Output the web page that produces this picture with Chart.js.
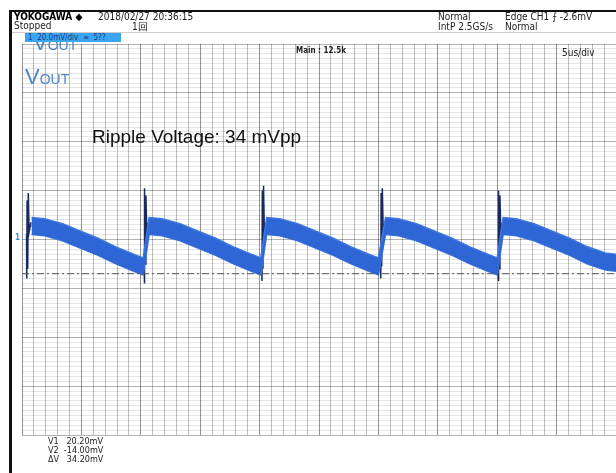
<!DOCTYPE html>
<html>
<head>
<title>Vout ripple</title>
<style>
  body { margin: 0; background: #fff; }
  #wrap { position: relative; width: 616px; height: 473px; overflow: hidden; background: #fff; }
  #chart { position: absolute; left: 0; top: 0; }
  .t { position: absolute; white-space: pre; font-family: "Liberation Sans Narrow", "DejaVu Sans Condensed", sans-serif; font-size: 10px; line-height: 10px; color: #222; }
  .vout { position: absolute; font-family: "Liberation Sans", Arial, sans-serif; color: #4f86c9; font-size: 22px; line-height: 22px; white-space: pre; }
  .vout span { font-size: 14px; }
  #frameL { position: absolute; left: 9px; top: 10px; width: 3px; height: 463px; background: #111; }
  #frameT { position: absolute; left: 9px; top: 10px; width: 607px; height: 2px; background: #111; }
  #sep { position: absolute; left: 12px; top: 32px; width: 604px; height: 1px; background: #ccc; }
  #chbox { position: absolute; left: 25px; top: 33px; width: 96px; height: 9px; background: #3aa6ef; z-index: 3; }
</style>
</head>
<body>
<div id="wrap">
  <canvas id="chart" width="616" height="473"></canvas>
  <div id="frameL"></div><div id="frameT"></div><div id="sep"></div>
  <div class="t" style="left:14px;top:12px;font-weight:bold;color:#000">YOKOGAWA ◆</div>
  <div class="t" style="left:98px;top:12px">2018/02/27 20:36:15</div>
  <div class="t" style="left:14px;top:21px">Stopped</div>
  <div class="t" style="left:132px;top:22px">1回</div>
  <div class="t" style="left:438px;top:12px">Normal</div>
  <div class="t" style="left:438px;top:22px">IntP 2.5GS/s</div>
  <div class="t" style="left:505px;top:12px">Edge CH1 ⨍ -2.6mV</div>
  <div class="t" style="left:505px;top:22px">Normal</div>
  <div class="vout" style="left:33px;top:32px;z-index:2">V<span>OUT</span></div>
  <div id="chbox"><div class="t" style="left:3px;top:0px;font-size:8px;line-height:9px;color:#1a3c8c">1  20.0mV/div  ≡  5??</div></div>
  <div class="vout" style="left:25px;top:66px">V<span>OUT</span></div>
  <div class="t" style="left:296px;top:46px;font-size:8px;font-weight:bold">Main : 12.5k</div>
  <div class="t" style="left:562px;top:48px">5us/div</div>
  <div style="position:absolute;left:92px;top:126px;font-family:'Liberation Sans',Arial,sans-serif;font-size:19px;color:#111;white-space:pre">Ripple Voltage: 34 mVpp</div>
  <div class="t" style="left:15px;top:233px;font-size:8px;color:#3a8ee0;font-weight:bold">1</div>
  <div class="t" style="left:48px;top:437px;font-size:9px;line-height:9px">V1   20.20mV</div>
  <div class="t" style="left:48px;top:446px;font-size:9px;line-height:9px">V2  -14.00mV</div>
  <div class="t" style="left:48px;top:455px;font-size:9px;line-height:9px">ΔV   34.20mV</div>
</div>
<script src="https://cdn.jsdelivr.net/npm/chart.js"></script>
<script>
// time in us (5us/div), voltage in mV (20mV/div)
const bandTime = [0.8, 1.9, 3.4, 4.9, 6.4, 7.9, 9.4, 10.2,
                  10.7, 11.8, 13.3, 14.8, 16.3, 17.8, 19.3, 20.1,
                  20.6, 21.7, 23.2, 24.7, 26.2, 27.7, 29.2, 30.0,
                  30.6, 31.7, 33.2, 34.7, 36.2, 37.7, 39.2, 40.0,
                  40.5, 41.6, 43.1, 44.6, 46.1, 47.6, 49.1, 50.0];
const bandUpper = [9.0, 8.5, 6.5, 3.5, 0.5, -3.0, -6.0, -7.5,
                   9.0, 8.5, 6.5, 3.5, 0.5, -3.0, -6.0, -7.5,
                   9.0, 8.5, 6.5, 3.5, 0.5, -3.0, -6.0, -7.5,
                   9.0, 8.5, 6.5, 3.5, 0.5, -3.0, -6.0, -7.5,
                   9.0, 8.5, 6.5, 3.5, 0.5, -3.0, -5.5, -6.0];
const bandMid = [5.5, 5.0, 3.0, 0.0, -3.0, -6.5, -9.5, -11.0,
                 5.5, 5.0, 3.0, 0.0, -3.0, -6.5, -9.5, -11.0,
                 5.5, 5.0, 3.0, 0.0, -3.0, -6.5, -9.5, -11.0,
                 5.5, 5.0, 3.0, 0.0, -3.0, -6.5, -9.5, -11.0,
                 5.5, 5.0, 3.0, 0.0, -3.0, -6.5, -9.0, -9.5];
const bandLower = [2.0, 1.5, -0.5, -3.5, -6.5, -10.0, -13.0, -14.5,
                   2.0, 1.5, -0.5, -3.5, -6.5, -10.0, -13.0, -14.5,
                   2.0, 1.5, -0.5, -3.5, -6.5, -10.0, -13.0, -14.5,
                   2.0, 1.5, -0.5, -3.5, -6.5, -10.0, -13.0, -14.5,
                   2.0, 1.5, -0.5, -3.5, -6.5, -10.0, -12.5, -13.0];
// switching spikes
const spikeTime = [0.38, 0.40, 0.43, 0.48, 0.53, 0.60, 0.75, null,
                   10.28, 10.30, 10.33, 10.38, 10.43, 10.50, 10.65, null,
                   20.18, 20.20, 20.23, 20.28, 20.33, 20.40, 20.55, null,
                   30.18, 30.20, 30.23, 30.28, 30.33, 30.40, 30.55, null,
                   40.08, 40.10, 40.13, 40.18, 40.23, 40.30, 40.45];
const spikeV = [2, -16, 16, -12, 19, 3, 7, null,
                -11, -18, 21, -10, 18, 4, 7, null,
                -11, -17, 20, -12, 22, 3, 7, null,
                -11, -16, 19, -11, 21, 4, 7, null,
                -11, -17, 20, -12, 18, 3, 7];
const cursorTime = [0, 50];
const cursorV2 = [-14, -14];

const pts = (xs, ys) => xs.map((x, i) => x === null ? {x: null, y: null} : {x: x, y: ys[i]});

new Chart(document.getElementById('chart'), {
  type: 'line',
  data: {
    datasets: [
      { data: pts(cursorTime, cursorV2), borderColor: '#555', borderWidth: 1, borderDash: [7, 3, 2, 3], pointRadius: 0 },
      { data: pts(bandTime, bandUpper), borderColor: '#3f78de', borderWidth: 1.5, pointRadius: 0, fill: '+1', backgroundColor: '#2f66d6' },
      { data: pts(bandTime, bandLower), borderColor: '#3f78de', borderWidth: 1.5, pointRadius: 0 },
      { data: pts(bandTime, bandMid), borderColor: '#1d3f9a', borderWidth: 1.5, pointRadius: 0 },
      { data: pts(spikeTime, spikeV), borderColor: '#1b2a5e', borderWidth: 1.5, pointRadius: 0, spanGaps: false }
    ]
  },
  options: {
    responsive: false,
    animation: false,
    layout: { padding: { left: 22, right: 0, top: 44, bottom: 38 } },
    plugins: { legend: { display: false }, tooltip: { enabled: false } },
    scales: {
      x: {
        type: 'linear', min: 0, max: 50,
        ticks: { display: false, stepSize: 1 },
        grid: { drawTicks: false, color: c => c.tick.value % 5 === 0 ? 'rgba(0,0,0,0.42)' : 'rgba(0,0,0,0.26)' },
        border: { display: false }
      },
      y: {
        min: -80, max: 80,
        ticks: { display: false, stepSize: 2 },
        grid: { drawTicks: false, color: c => c.tick.value % 20 === 0 ? 'rgba(0,0,0,0.3)' : 'rgba(0,0,0,0.1)' },
        border: { display: false }
      }
    }
  }
});
</script>
</body>
</html>
